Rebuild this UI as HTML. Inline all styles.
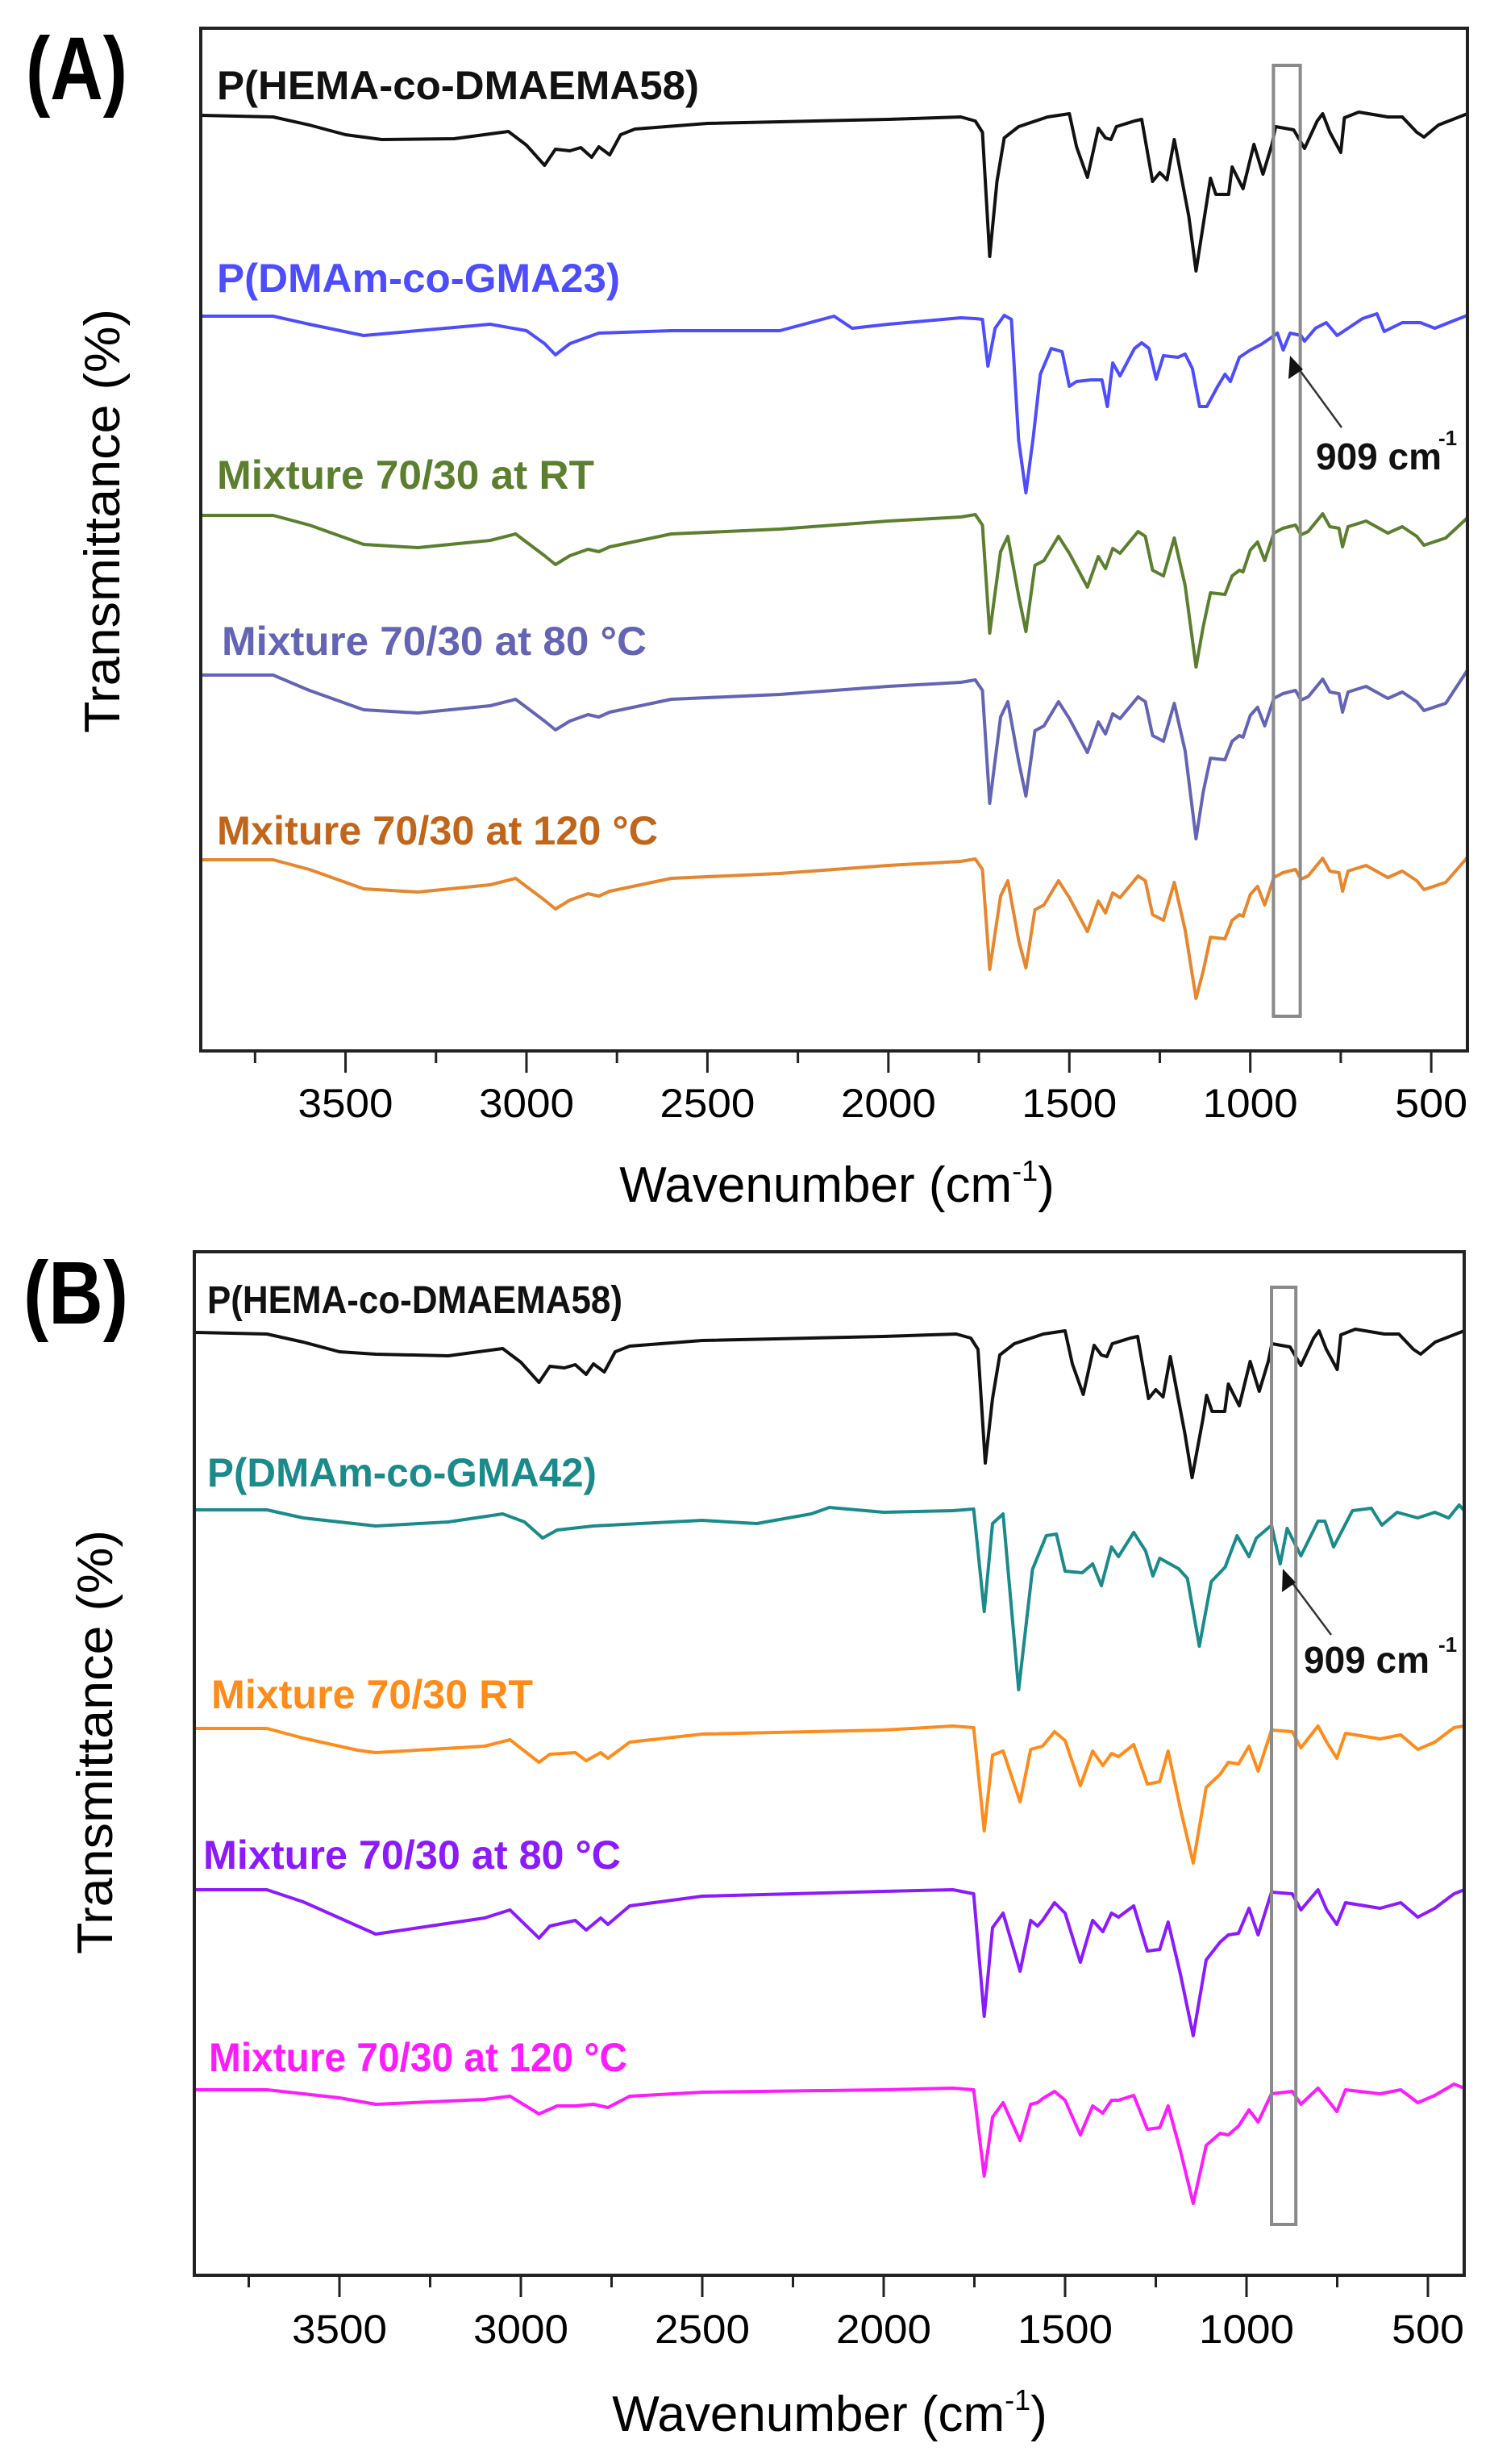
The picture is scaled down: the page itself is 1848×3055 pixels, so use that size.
<!DOCTYPE html>
<html><head><meta charset="utf-8"><title>FTIR spectra</title>
<style>
html,body{margin:0;padding:0;background:#fff;}
svg{display:block;}
text{font-family:"Liberation Sans",Arial,sans-serif;}
</style></head>
<body>
<svg id="fig" width="1848" height="3055" viewBox="0 0 1848 3055" xmlns="http://www.w3.org/2000/svg">
<rect x="0" y="0" width="1848" height="3055" fill="#fff"/>
<g>
  <text x="32" y="123" font-size="110" font-weight="bold" textLength="126" lengthAdjust="spacingAndGlyphs">(A)</text>
  <g id="ticksA"></g>
  <g id="seriesA"></g>
  <rect id="boxA" fill="none" stroke="#8a8a8a" stroke-width="4"/>
  <rect x="249" y="35" width="1571" height="1268" fill="none" stroke="#222" stroke-width="4"/>
  <text x="269" y="123" font-size="50" font-weight="bold" fill="#111" textLength="598" lengthAdjust="spacingAndGlyphs">P(HEMA-co-DMAEMA58)</text>
  <text x="269" y="362" font-size="50" font-weight="bold" fill="#4d4dff" textLength="500" lengthAdjust="spacingAndGlyphs">P(DMAm-co-GMA23)</text>
  <text x="269" y="606" font-size="50" font-weight="bold" fill="#5b7f2e" textLength="468" lengthAdjust="spacingAndGlyphs">Mixture 70/30 at RT</text>
  <text x="275" y="812" font-size="50" font-weight="bold" fill="#6464b4" textLength="527" lengthAdjust="spacingAndGlyphs">Mixture 70/30 at 80 °C</text>
  <text x="269" y="1047" font-size="50" font-weight="bold" fill="#c0651a" textLength="547" lengthAdjust="spacingAndGlyphs">Mxiture 70/30 at 120 °C</text>
  <line x1="1664" y1="530" x2="1604" y2="448" stroke="#333" stroke-width="2.5"/>
  <polygon points="1600,441 1598,470 1616,458" fill="#111"/>
  <text x="1632" y="582" font-size="46" font-weight="bold" fill="#111">909 cm</text>
  <text x="1784" y="552" font-size="26" font-weight="bold" fill="#111">-1</text>
  <text transform="translate(148,646) rotate(-90)" text-anchor="middle" font-size="62" textLength="526" lengthAdjust="spacingAndGlyphs">Transmittance (%)</text>
  <text x="1038" y="1490" text-anchor="middle" font-size="62">Wavenumber (cm<tspan font-size="36" dy="-26">-1</tspan><tspan dy="26">)</tspan></text>
</g>
<g>
  <text x="29" y="1641" font-size="110" font-weight="bold" textLength="130" lengthAdjust="spacingAndGlyphs">(B)</text>
  <g id="ticksB"></g>
  <g id="seriesB"></g>
  <rect id="boxB" fill="none" stroke="#8a8a8a" stroke-width="4"/>
  <rect x="241" y="1552" width="1575" height="1269" fill="none" stroke="#222" stroke-width="4"/>
  <text x="257" y="1628" font-size="48" font-weight="bold" fill="#111" textLength="515" lengthAdjust="spacingAndGlyphs">P(HEMA-co-DMAEMA58)</text>
  <text x="257" y="1843" font-size="50" font-weight="bold" fill="#1a8a8a" textLength="483" lengthAdjust="spacingAndGlyphs">P(DMAm-co-GMA42)</text>
  <text x="262" y="2118" font-size="50" font-weight="bold" fill="#ff8c1a" textLength="399" lengthAdjust="spacingAndGlyphs">Mixture 70/30 RT</text>
  <text x="252" y="2317" font-size="50" font-weight="bold" fill="#8b1aff" textLength="518" lengthAdjust="spacingAndGlyphs">Mixture 70/30 at 80 °C</text>
  <text x="259" y="2568" font-size="50" font-weight="bold" fill="#ff1aff" textLength="519" lengthAdjust="spacingAndGlyphs">Mixture 70/30 at 120 °C</text>
  <line x1="1651" y1="2027" x2="1595" y2="1952" stroke="#333" stroke-width="2.5"/>
  <polygon points="1591,1945 1590,1974 1607,1962" fill="#111"/>
  <text x="1617" y="2074" font-size="46" font-weight="bold" fill="#111">909 cm</text>
  <text x="1784" y="2048" font-size="26" font-weight="bold" fill="#111">-1</text>
  <text transform="translate(139,2160) rotate(-90)" text-anchor="middle" font-size="62" textLength="526" lengthAdjust="spacingAndGlyphs">Transmittance (%)</text>
  <text x="1029" y="3014" text-anchor="middle" font-size="62">Wavenumber (cm<tspan font-size="36" dy="-26">-1</tspan><tspan dy="26">)</tspan></text>
</g>
</svg>
<script>
const tickMajor = [3500, 3000, 2500, 2000, 1500, 1000, 500];
const tickMinor = [3750, 3250, 2750, 2250, 1750, 1250, 750];
const tickLabels = ["3500", "3000", "2500", "2000", "1500", "1000", "500"];
const highlightA = [936, 862];
const highlightB = [931, 864];

const wnA_black = [3900,3700,3600,3500,3400,3200,3050,3000,2950,2920,2880,2850,2820,2800,2770,2740,2700,2500,2000,1800,1760,1740,1720,1700,1680,1640,1560,1500,1480,1450,1420,1400,1385,1370,1320,1300,1270,1250,1230,1210,1170,1150,1120,1110,1095,1060,1050,1020,990,965,940,930,880,850,815,800,780,750,740,700,620,580,540,520,480,440,400];
const tA_black = [116.0,115.8,114.8,113.6,113.0,113.1,114.0,112.3,109.8,111.8,111.6,112.0,110.8,112.1,111.1,113.6,114.3,115.0,115.5,115.8,115.3,113.9,98.5,107.8,113.2,114.6,115.8,116.2,112.1,108.3,114.4,113.2,113.0,114.6,115.3,115.5,107.8,108.9,108.0,113.0,103.5,96.7,105.3,108.2,106.2,106.2,109.6,106.9,112.4,108.7,112.4,114.6,114.2,111.9,115.3,116.2,113.9,111.4,115.7,116.4,115.8,115.8,113.9,113.3,114.8,115.5,116.2];
const wnA_blue = [3900,3700,3600,3450,3300,3100,3000,2950,2920,2880,2800,2600,2300,2150,2100,2000,1800,1760,1740,1725,1705,1680,1660,1640,1620,1600,1580,1550,1520,1500,1480,1440,1410,1395,1380,1360,1320,1300,1280,1260,1240,1200,1180,1160,1140,1120,1090,1070,1055,1030,1000,970,940,925,909,890,860,850,820,790,760,730,690,650,630,580,530,490,440,400];
const tA_blue = [91.1,91.1,90.1,88.7,89.3,90.1,89.3,87.7,86.3,87.7,89.0,89.3,89.3,91.1,89.6,90.1,90.9,90.8,90.7,84.9,89.6,91.2,90.7,75.7,69.2,76.0,83.9,87.1,86.7,82.4,83.0,83.2,83.2,79.9,85.3,83.7,87.1,87.8,87.1,83.3,86.2,86.0,86.4,84.6,79.9,79.9,82.4,83.9,83.0,86.0,86.9,87.6,88.5,89.0,86.9,89.0,88.7,88.0,89.6,90.3,88.7,89.6,90.8,91.4,89.2,90.3,90.3,89.6,90.5,91.2];
const wnA_mix = [3900,3700,3600,3450,3300,3100,3030,2950,2920,2880,2830,2800,2770,2600,2300,2000,1800,1760,1740,1720,1690,1670,1640,1620,1595,1570,1530,1500,1450,1420,1400,1380,1360,1310,1290,1270,1240,1210,1180,1150,1130,1110,1070,1050,1030,1020,1000,980,960,935,910,875,860,840,800,780,755,745,730,680,620,580,540,520,460,400];
const tA_rt = [66.4,66.4,65.2,62.8,62.4,63.3,64.1,61.4,60.3,61.4,62.2,61.9,62.5,64.1,64.7,65.7,66.2,66.5,65.2,51.8,61.9,63.8,56.4,52.0,60.2,60.8,63.8,61.7,57.5,61.3,59.8,62.3,61.7,64.4,63.8,59.6,58.9,63.6,57.7,47.6,52.6,56.8,56.6,58.9,59.6,59.4,62.1,63.1,60.8,64.2,64.8,65.2,64.0,64.4,66.6,65.0,64.8,62.5,65.0,65.7,64.2,65.0,63.8,62.7,63.6,66.1];
const tA_80 = [46.6,46.6,44.7,42.3,41.9,42.8,43.6,40.9,39.8,40.9,41.7,41.4,42.0,43.6,44.2,45.2,45.7,46.0,44.7,30.7,41.4,43.3,35.9,31.6,39.7,40.3,43.3,41.2,37.0,40.8,39.3,41.8,41.2,43.9,43.3,39.1,38.4,43.1,37.2,26.3,32.1,36.3,36.1,38.4,39.1,38.9,41.6,42.6,40.3,43.7,44.3,44.7,43.5,43.9,46.1,44.5,44.3,42.0,44.5,45.2,43.7,44.5,43.3,42.2,43.1,47.2];
const tA_120 = [23.7,23.7,22.5,20.1,19.7,20.6,21.4,18.7,17.6,18.7,19.5,19.2,19.8,21.4,22.0,23.0,23.5,23.8,22.5,10.1,19.2,21.1,13.7,10.3,17.5,18.1,21.1,19.0,14.8,18.6,17.1,19.6,19.0,21.7,21.1,16.9,16.2,20.9,15.0,6.5,9.9,14.1,13.9,16.2,16.9,16.7,19.4,20.4,18.1,21.5,22.1,22.5,21.3,21.7,23.9,22.3,22.1,19.8,22.3,23.0,21.5,22.3,21.1,20.0,20.9,24.0];

const wnB_black = [3900,3700,3600,3500,3400,3200,3050,3000,2950,2920,2880,2850,2820,2800,2770,2740,2700,2500,2000,1800,1760,1740,1720,1700,1680,1640,1560,1500,1480,1450,1420,1400,1385,1370,1320,1300,1270,1250,1230,1210,1170,1150,1120,1110,1095,1060,1050,1020,990,965,940,930,880,850,815,800,780,750,740,700,620,580,540,520,480,440,400];
const tB_black = [116.9,116.7,115.7,114.5,114.2,114.0,114.9,113.2,110.7,112.7,112.5,112.9,111.7,113.0,112.0,114.5,115.2,115.9,116.4,116.7,116.2,114.8,100.7,108.7,114.1,115.5,116.7,117.1,113.0,109.2,115.3,114.1,113.9,115.5,116.2,116.4,108.7,109.8,108.9,113.9,104.4,98.9,106.2,109.1,107.1,107.1,110.5,107.8,113.3,109.6,113.3,115.5,115.1,112.8,116.2,117.1,114.8,112.3,116.6,117.3,116.7,116.7,114.8,114.2,115.7,116.4,117.1];
const wnB_teal = [3900,3700,3600,3400,3200,3050,2990,2940,2900,2800,2500,2350,2200,2150,2000,1809,1752,1723,1700,1671,1628,1590,1552,1524,1500,1453,1424,1400,1372,1353,1311,1278,1258,1239,1187,1163,1130,1097,1059,1026,993,973,931,907,888,850,803,784,760,708,656,627,585,528,481,443,414,400];
const tB_teal = [94.9,94.9,93.9,92.9,93.4,94.4,93.4,91.4,92.4,92.9,93.6,93.2,94.4,95.2,94.6,94.8,95.0,82.3,93.2,94.4,72.6,87.5,91.7,91.9,87.3,87.1,88.2,85.5,90.3,89.1,92.1,89.8,86.7,88.9,87.6,86.4,78.0,86.0,87.8,91.7,89.1,91.4,93.0,88.2,92.6,89.2,93.5,93.5,90.3,94.8,95.1,93.0,94.6,93.9,94.6,93.9,95.5,94.8];
const wnB_rt = [3900,3700,3600,3450,3400,3100,3030,2950,2920,2850,2820,2780,2760,2700,2500,2000,1809,1752,1723,1700,1671,1624,1595,1562,1529,1500,1458,1424,1396,1372,1353,1311,1273,1239,1216,1182,1147,1111,1073,1050,1022,993,968,931,874,850,803,779,751,727,632,575,528,481,428,400];
const tB_rt = [67.8,67.8,66.6,65.1,64.8,65.6,66.4,63.6,64.6,64.8,63.8,64.8,64.1,66.1,67.1,67.6,68.1,67.9,55.1,64.5,65.0,58.7,65.2,65.6,67.4,66.3,60.7,65.0,63.2,64.7,64.3,65.8,60.9,61.2,65.0,57.8,51.1,60.5,62.1,63.6,63.4,65.6,62.5,67.6,67.4,65.4,68.1,66.1,64.1,67.2,66.5,67.0,65.2,66.1,67.9,68.1];
const wnB_80 = [3900,3700,3600,3450,3400,3250,3100,3030,2950,2920,2850,2820,2780,2760,2700,2500,2000,1809,1752,1723,1700,1671,1624,1595,1576,1562,1529,1500,1458,1424,1396,1372,1353,1311,1273,1239,1216,1182,1147,1111,1073,1050,1022,993,968,931,874,850,803,779,751,727,632,575,528,481,428,400];
const tB_80 = [47.8,47.8,46.3,43.3,42.3,43.3,44.3,45.3,41.8,43.3,44.0,42.8,44.3,43.5,45.8,47.0,47.6,47.8,47.3,32.1,43.1,44.9,37.7,44.0,43.3,44.0,46.2,44.9,38.8,44.0,42.6,44.9,44.4,45.8,40.2,40.4,43.8,37.3,29.7,39.1,41.3,42.2,42.4,45.5,42.2,47.5,47.3,45.3,47.8,45.3,43.5,46.2,45.5,46.2,44.4,45.5,47.3,47.8];
const wnB_120 = [3900,3700,3500,3400,3100,3030,2950,2900,2850,2800,2760,2700,2500,2000,1809,1752,1723,1700,1671,1624,1595,1576,1562,1529,1500,1458,1424,1396,1372,1353,1311,1273,1239,1216,1182,1147,1111,1073,1050,1022,993,968,931,874,850,803,779,751,727,632,575,528,481,428,400];
const tB_120 = [23.0,23.0,22.0,21.2,21.8,22.2,20.0,21.0,21.0,21.2,20.8,22.2,22.7,23.0,23.2,23.0,12.3,19.6,21.4,16.7,21.2,21.4,21.9,22.8,21.7,17.4,21.0,20.1,21.7,21.7,22.3,18.1,18.3,21.0,15.4,8.9,16.1,17.6,17.4,18.5,20.5,19.0,22.5,22.8,21.2,23.2,21.9,20.3,23.0,22.5,23.0,21.4,22.3,23.7,23.2];

const NS = "http://www.w3.org/2000/svg";
function makeAxis(x0, x1, y0, y1, yMax) {
  return {
    x: w => x0 + (3900 - w) / 3500 * (x1 - x0),
    y: v => y1 - v / yMax * (y1 - y0),
    x0, x1, y0, y1
  };
}
const axA = makeAxis(249, 1820, 35, 1303, 126.8);
const axB = makeAxis(241, 1816, 1552, 2821, 126.9);

function drawTicks(ax, gid, labelBase) {
  const g = document.getElementById(gid);
  tickMajor.forEach((t, i) => {
    const l = document.createElementNS(NS, "line");
    
    
    l.setAttribute("x1", ax.x(t)); l.setAttribute("x2", ax.x(t));
    l.setAttribute("y1", ax.y1); l.setAttribute("y2", ax.y1 + 27);
    l.setAttribute("stroke", "#222"); l.setAttribute("stroke-width", "3");
    g.appendChild(l);
    const tx = document.createElementNS(NS, "text");
    
    
    tx.setAttribute("x", ax.x(t)); tx.setAttribute("y", labelBase);
    tx.setAttribute("text-anchor", "middle"); tx.setAttribute("font-size", "50");
    tx.setAttribute("textLength", t >= 1000 ? "118" : "90");
    tx.setAttribute("lengthAdjust", "spacingAndGlyphs");
    tx.textContent = tickLabels[i];
    g.appendChild(tx);
  });
  tickMinor.forEach(t => {
    const l = document.createElementNS(NS, "line");
    
    
    l.setAttribute("x1", ax.x(t)); l.setAttribute("x2", ax.x(t));
    l.setAttribute("y1", ax.y1); l.setAttribute("y2", ax.y1 + 15);
    l.setAttribute("stroke", "#222"); l.setAttribute("stroke-width", "3");
    g.appendChild(l);
  });
}
drawTicks(axA, "ticksA", 1385);
drawTicks(axB, "ticksB", 2905);

function drawSeries(ax, gid, wn, vals, color, name) {
  const g = document.getElementById(gid);
  let d = "";
  for (let i = 0; i < wn.length; i++) {
    d += (i ? "L" : "M") + ax.x(wn[i]).toFixed(1) + "," + ax.y(vals[i]).toFixed(1);
  }
  const p = document.createElementNS(NS, "path");
  
  
  p.setAttribute("d", d);
  p.setAttribute("fill", "none");
  p.setAttribute("stroke", color);
  p.setAttribute("stroke-width", "4");
  p.setAttribute("stroke-linejoin", "round");
  g.appendChild(p);
}
drawSeries(axA, "seriesA", wnA_black, tA_black, "#111111", "spectrum-hema-dmaema58-a");
drawSeries(axA, "seriesA", wnA_blue, tA_blue, "#4d4dff", "spectrum-dmam-gma23");
drawSeries(axA, "seriesA", wnA_mix, tA_rt, "#5b7f2e", "spectrum-mixture-rt-a");
drawSeries(axA, "seriesA", wnA_mix, tA_80, "#6464b4", "spectrum-mixture-80-a");
drawSeries(axA, "seriesA", wnA_mix, tA_120, "#e6862e", "spectrum-mixture-120-a");
drawSeries(axB, "seriesB", wnB_black, tB_black, "#111111", "spectrum-hema-dmaema58-b");
drawSeries(axB, "seriesB", wnB_teal, tB_teal, "#1a8a8a", "spectrum-dmam-gma42");
drawSeries(axB, "seriesB", wnB_rt, tB_rt, "#ff8c1a", "spectrum-mixture-rt-b");
drawSeries(axB, "seriesB", wnB_80, tB_80, "#8b1aff", "spectrum-mixture-80-b");
drawSeries(axB, "seriesB", wnB_120, tB_120, "#ff1aff", "spectrum-mixture-120-b");

function placeBox(id, ax, range, yTop, yBot) {
  const r = document.getElementById(id);
  r.setAttribute("x", ax.x(range[0]));
  r.setAttribute("width", ax.x(range[1]) - ax.x(range[0]));
  r.setAttribute("y", yTop);
  r.setAttribute("height", yBot - yTop);
}
placeBox("boxA", axA, highlightA, 81, 1260);
placeBox("boxB", axB, highlightB, 1596, 2758);
</script>
</body></html>
